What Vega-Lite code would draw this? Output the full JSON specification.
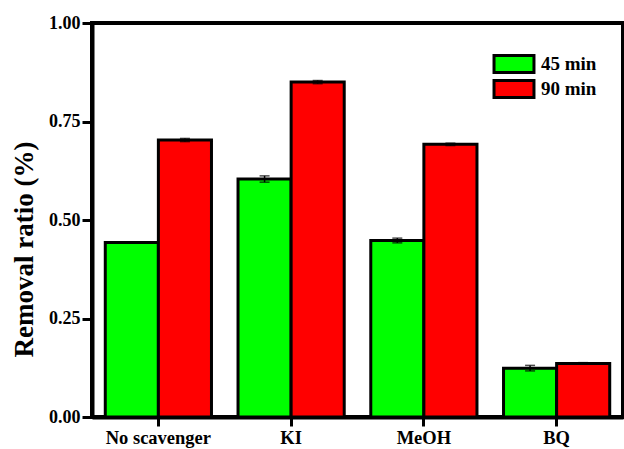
{
  "$schema": "https://vega.github.io/schema/vega-lite/v6.json",
  "width": 531,
  "height": 394,
  "autosize": "none",
  "padding": {"left": 92, "top": 23, "right": 1, "bottom": 32},
  "background": "white",
  "config": {
    "font": "Liberation Serif",
    "view": {"stroke": "black", "strokeWidth": 4},
    "axis": {
      "domainColor": "black", "domainWidth": 4,
      "tickColor": "black", "tickWidth": 3, "tickSize": 9,
      "labelFont": "Liberation Serif", "labelFontWeight": "bold", "labelColor": "black",
      "titleFont": "Liberation Serif", "titleFontWeight": "bold", "titleColor": "black",
      "grid": false
    }
  },
  "data": {
    "values": [
      {"scavenger": "No scavenger", "time": "45 min", "value": 0.443, "lo": 0.443, "hi": 0.443},
      {"scavenger": "No scavenger", "time": "90 min", "value": 0.703, "lo": 0.699, "hi": 0.707},
      {"scavenger": "KI", "time": "45 min", "value": 0.604, "lo": 0.596, "hi": 0.612},
      {"scavenger": "KI", "time": "90 min", "value": 0.850, "lo": 0.846, "hi": 0.854},
      {"scavenger": "MeOH", "time": "45 min", "value": 0.448, "lo": 0.442, "hi": 0.454},
      {"scavenger": "MeOH", "time": "90 min", "value": 0.692, "lo": 0.689, "hi": 0.695},
      {"scavenger": "BQ", "time": "45 min", "value": 0.124, "lo": 0.117, "hi": 0.131},
      {"scavenger": "BQ", "time": "90 min", "value": 0.136, "lo": 0.134, "hi": 0.138}
    ]
  },
  "encoding": {
    "x": {
      "field": "scavenger", "type": "nominal",
      "sort": ["No scavenger", "KI", "MeOH", "BQ"],
      "scale": {"paddingInner": 0.2, "paddingOuter": 0.1},
      "axis": {"title": null, "labelAngle": 0, "labelFontSize": 18.5, "labelPadding": 2}
    },
    "xOffset": {
      "field": "time", "type": "nominal", "sort": ["45 min", "90 min"],
      "scale": {"paddingInner": 0, "paddingOuter": 0}
    }
  },
  "layer": [
    {
      "mark": {"type": "bar", "stroke": "black", "strokeWidth": 3},
      "encoding": {
        "y": {
          "field": "value", "type": "quantitative",
          "scale": {"domain": [0, 1]},
          "axis": {
            "title": "Removal ratio (%)", "titleFontSize": 27, "titlePadding": 10, "titleY": 226,
            "values": [0, 0.25, 0.5, 0.75, 1], "format": ".2f",
            "labelFontSize": 18, "labelPadding": 2, "tickSize": 10
          }
        },
        "color": {
          "field": "time", "type": "nominal",
          "scale": {"domain": ["45 min", "90 min"], "range": ["#00FF00", "#FF0000"]},
          "legend": {
            "title": null, "orient": "none", "legendX": 412, "legendY": 31,
            "symbolType": "M-2.35,-1H2.35V1H-2.35Z", "symbolSize": 289,
            "symbolStrokeColor": "black", "symbolStrokeWidth": 3, "symbolOpacity": 1,
            "labelFontSize": 19, "labelFont": "Liberation Serif", "labelFontWeight": "bold", "labelColor": "black",
            "rowPadding": -8.5, "labelOffset": 17
          }
        }
      }
    },
    {
      "mark": {"type": "rule", "color": "black", "strokeWidth": 1.5},
      "encoding": {
        "y": {"field": "lo", "type": "quantitative"},
        "y2": {"field": "hi"}
      }
    },
    {
      "mark": {"type": "tick", "color": "black", "thickness": 1.5, "size": 10},
      "encoding": {"y": {"field": "lo", "type": "quantitative"}}
    },
    {
      "mark": {"type": "tick", "color": "black", "thickness": 1.5, "size": 10},
      "encoding": {"y": {"field": "hi", "type": "quantitative"}}
    }
  ]
}
